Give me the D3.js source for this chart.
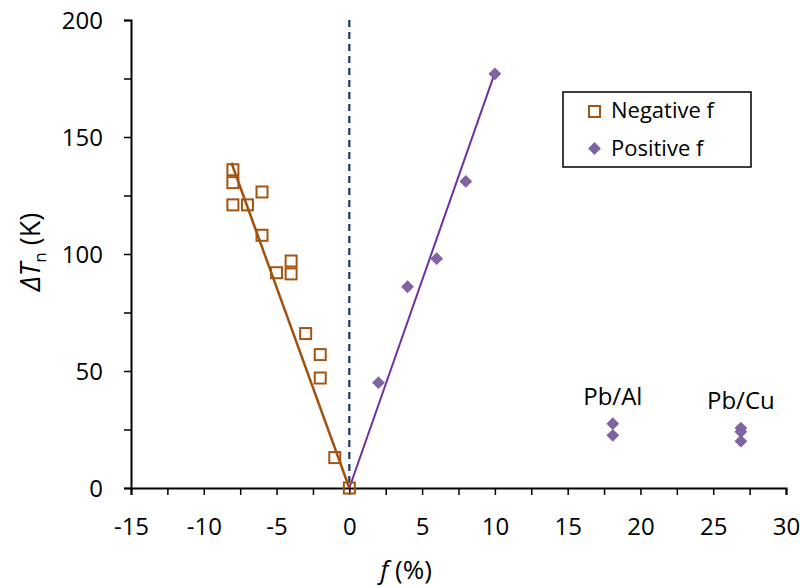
<!DOCTYPE html>
<html>
<head>
<meta charset="utf-8">
<script src="https://cdn.jsdelivr.net/npm/d3@7"></script>
<style>
  body { margin: 0; background: #fff; }
  svg text { font-family: "Open Sans", "Liberation Sans", sans-serif; fill: #000; }
</style>
</head>
<body>
<div id="chart"></div>
<script>
// data
var negF  = [-8, -8, -8, -7, -6, -6, -5, -4, -4, -3, -2, -2, -1, 0];
var negDT = [136, 130.5, 121, 121, 126.5, 108, 92, 97, 91.5, 66, 57, 47, 13, 0];
var posF  = [2, 4, 6, 8, 10, 18.1, 18.1, 26.9, 26.9, 26.9];
var posDT = [45, 86, 98, 131, 177, 27.5, 22.5, 25.6, 24, 20];
var negFit = [[-8.1, 139], [0, 0]];
var posFit = [[0, 0], [10, 177.5]];
var xTicks = [-15, -10, -5, 0, 5, 10, 15, 20, 25, 30];
var yTicks = [0, 50, 100, 150, 200];
var notes = [{f: 18.1, dt: 27.5, text: "Pb/Al"}, {f: 26.9, dt: 25.6, text: "Pb/Cu"}];

var w = 800, h = 586;
var margin = {left: 131, right: 14, top: 20, bottom: 98};

var svg = d3.select("#chart").append("svg")
  .attr("width", w)
  .attr("height", h);

var x = d3.scaleLinear().domain([-15, 30]).range([margin.left, w - margin.right]);
var y = d3.scaleLinear().domain([0, 200]).range([h - margin.bottom, margin.top]);

// axes
var xAxis = svg.append("g")
  .attr("transform", "translate(0," + y(0) + ")")
  .call(d3.axisBottom(x).tickValues(d3.range(-15, 30.1, 2.5)).tickSize(7)
    .tickFormat(function (d) { return xTicks.indexOf(d) >= 0 ? d : ""; }));
xAxis.select(".domain").attr("stroke", "#000").attr("stroke-width", 2);
xAxis.selectAll(".tick line").attr("stroke", "#000").attr("stroke-width", 1.5);
xAxis.selectAll(".tick text").attr("font-size", 24).attr("y", 47).attr("dy", 0);

var yAxis = svg.append("g")
  .attr("transform", "translate(" + x(-15) + ",0)")
  .call(d3.axisLeft(y).tickValues(d3.range(0, 200.1, 25)).tickSize(7)
    .tickFormat(function (d) { return yTicks.indexOf(d) >= 0 ? d : ""; }));
yAxis.select(".domain").attr("stroke", "#000").attr("stroke-width", 2);
yAxis.selectAll(".tick line").attr("stroke", "#000").attr("stroke-width", 1.5);
yAxis.selectAll(".tick text").attr("font-size", 24).attr("x", -28).attr("dy", "0.36em");

// dashed line at f = 0
svg.append("line")
  .attr("x1", x(0)).attr("x2", x(0))
  .attr("y1", y(200)).attr("y2", y(0))
  .attr("stroke", "#203864").attr("stroke-width", 2.2)
  .attr("stroke-dasharray", "7,5");

// trend lines
var line = d3.line().x(function (d) { return x(d[0]); }).y(function (d) { return y(d[1]); });
svg.append("path").attr("d", line(negFit))
  .attr("fill", "none").attr("stroke", "#a0520f").attr("stroke-width", 2.5);
svg.append("path").attr("d", line(posFit))
  .attr("fill", "none").attr("stroke", "#7030a0").attr("stroke-width", 2);

// negative f: open squares
svg.selectAll("rect.neg")
  .data(d3.range(negF.length))
  .enter().append("rect")
  .attr("class", "neg")
  .attr("x", function (i) { return x(negF[i]) - 5.5; })
  .attr("y", function (i) { return y(negDT[i]) - 5.5; })
  .attr("width", 11).attr("height", 11)
  .attr("fill", "none").attr("stroke", "#a5540f").attr("stroke-width", 2);

// positive f: diamonds
var diamond = d3.symbol().type(d3.symbolSquare).size(82);
svg.selectAll("path.pos")
  .data(d3.range(posF.length))
  .enter().append("path")
  .attr("class", "pos")
  .attr("d", diamond)
  .attr("transform", function (i) { return "translate(" + x(posF[i]) + "," + y(posDT[i]) + ") rotate(45)"; })
  .attr("fill", "#8064a2");

// annotations
svg.selectAll("text.note")
  .data(notes)
  .enter().append("text")
  .attr("class", "note")
  .attr("x", function (d) { return x(d.f); })
  .attr("y", function (d) { return y(d.dt) - 19; })
  .attr("text-anchor", "middle")
  .attr("font-size", 24)
  .text(function (d) { return d.text; });

// legend
var lg = svg.append("g").attr("transform", "translate(563,92)");
lg.append("rect").attr("width", 188).attr("height", 75)
  .attr("fill", "#fff").attr("stroke", "#000").attr("stroke-width", 1.5);
lg.append("rect").attr("x", 26).attr("y", 14).attr("width", 11).attr("height", 11)
  .attr("fill", "none").attr("stroke", "#a5540f").attr("stroke-width", 2);
lg.append("path").attr("d", diamond)
  .attr("transform", "translate(31.5,56.5) rotate(45)").attr("fill", "#8064a2");
lg.append("text").attr("x", 48).attr("y", 26).attr("font-size", 22).text("Negative f");
lg.append("text").attr("x", 48).attr("y", 64).attr("font-size", 22).text("Positive f");

// axis titles
svg.append("text")
  .attr("x", 406).attr("y", 579)
  .attr("text-anchor", "middle").attr("font-size", 26)
  .html('<tspan font-style="italic">f</tspan> (%)');

svg.append("text")
  .attr("transform", "translate(40,252) rotate(-90)")
  .attr("text-anchor", "middle").attr("font-size", 27)
  .html('<tspan font-style="italic">ΔT</tspan><tspan font-size="17" dy="6">n</tspan><tspan dy="-6"> (K)</tspan>');
</script>
</body>
</html>
